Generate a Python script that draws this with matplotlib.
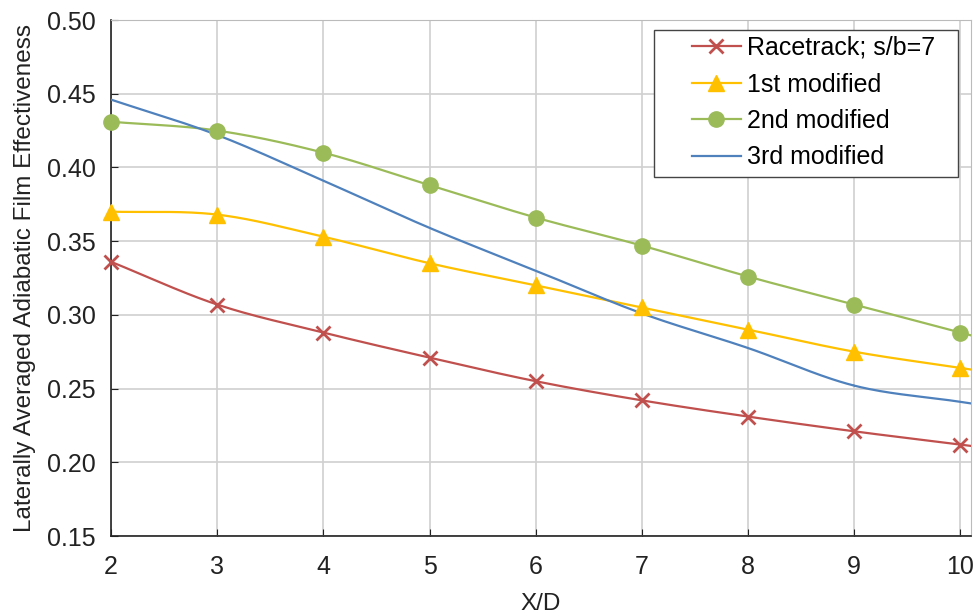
import matplotlib
matplotlib.use("Agg")
import matplotlib.pyplot as plt
from matplotlib.patches import Rectangle
import numpy as np

plt.rcParams['font.family'] = ['Liberation Sans', 'DejaVu Sans']

xd = [2, 3, 4, 5, 6, 7, 8, 9, 10]
racetrack = [0.336, 0.307, 0.288, 0.271, 0.255, 0.242, 0.231, 0.221, 0.212]
mod1 = [0.370, 0.368, 0.353, 0.335, 0.320, 0.305, 0.290, 0.275, 0.264]
mod2 = [0.431, 0.425, 0.410, 0.388, 0.366, 0.347, 0.326, 0.307, 0.288]
mod3 = [0.446, 0.422, 0.391, 0.359, 0.330, 0.301, 0.2775, 0.252, 0.241]

labels = ['Racetrack; s/b=7', '1st modified', '2nd modified', '3rd modified']
colors = ['#C0504D', '#FFC000', '#9BBB59', '#4F81BD']
markers = ['x', '^', 'o', None]


def smooth(x, y, n=30, ext=0.1):
    """ Catmull-Rom style smoothing, similar to the spreadsheet 'smoothed line'."""
    x = np.asarray(x, float)
    y = np.asarray(y, float)
    px = np.concatenate([[2 * x[0] - x[1]], x, [2 * x[-1] - x[-2]]])
    py = np.concatenate([[2 * y[0] - y[1]], y, [2 * y[-1] - y[-2]]])
    xs, ys = [], []
    t = np.linspace(0, 1, n)
    for i in range(1, len(px) - 2):
        p0, p1, p2, p3 = py[i - 1], py[i], py[i + 1], py[i + 2]
        q0, q1, q2, q3 = px[i - 1], px[i], px[i + 1], px[i + 2]
        ys.append(0.5 * (2 * p1 + (-p0 + p2) * t + (2 * p0 - 5 * p1 + 4 * p2 - p3) * t**2
                         + (-p0 + 3 * p1 - 3 * p2 + p3) * t**3))
        xs.append(0.5 * (2 * q1 + (-q0 + q2) * t + (2 * q0 - 5 * q1 + 4 * q2 - q3) * t**2
                         + (-q0 + 3 * q1 - 3 * q2 + q3) * t**3))
    xs = np.concatenate(xs)
    ys = np.concatenate(ys)
    # carry the end on a little so it reaches the right frame
    slope = (ys[-1] - ys[-2]) / (xs[-1] - xs[-2])
    xs = np.append(xs, xs[-1] + ext)
    ys = np.append(ys, ys[-1] + slope * ext)
    return xs, ys


W, H = 976, 616
fig = plt.figure(figsize=(W / 100, H / 100), dpi=100)
ax = fig.add_axes([111 / W, 1 - 536 / H, 860 / W, 516 / H])

series = [racetrack, mod1, mod2, mod3]
for vals, lab, c, m in zip(series, labels, colors, markers):
    sx, sy = smooth(xd, vals)
    ax.plot(sx, sy, color=c, lw=1.6, zorder=3)
    if m is None:
        ax.plot([], [], color=c, lw=1.6, label=lab)
    else:
        ms = 10 if m == 'x' else 11
        mew = 2 if m == 'x' else 1
        ax.plot(xd, vals, linestyle='none', marker=m, color=c, ms=ms,
                mew=mew, zorder=4, clip_on=False)
        ax.plot([], [], color=c, lw=1.6, marker=m, ms=ms, mew=mew, label=lab)

ax.set_xlim(2, 10.1)
ax.set_ylim(0.15, 0.50)
ax.set_xticks(range(2, 11))
yt = np.arange(0.15, 0.501, 0.05)
ax.set_yticks(yt)
ax.set_yticklabels([f'{v:.2f}' for v in yt])
ax.grid(True, color='#D0D0D0', lw=1.2)
ax.set_axisbelow(True)
ax.tick_params(direction='in', labelsize=18, length=5, pad=11, colors='#222222')
ax.tick_params(axis='x', pad=14)
for s in ['top', 'right']:
    ax.spines[s].set_color('#BBBBBB')
for s in ['left', 'bottom']:
    ax.spines[s].set_color('#222222')
    ax.spines[s].set_linewidth(1.2)

ax.set_xlabel('X/D', fontsize=17.5, labelpad=10, color='#222222')
ax.set_ylabel('Laterally Averaged Adiabatic Film Effectiveness', fontsize=17.5,
              labelpad=8, color='#222222')

# legend frame drawn by hand: the box has wide side margins but tight rows
frame = Rectangle((654 / W, 1 - 177 / H), 304 / W, 147 / H, transform=fig.transFigure,
                  facecolor='white', edgecolor='#444444', lw=1.0, zorder=5)
ax.add_patch(frame)
frame.set_clip_on(False)
leg = ax.legend(loc='upper left', bbox_to_anchor=(692 / W, 1 - 36 / H),
                bbox_transform=fig.transFigure, fontsize=18, frameon=False,
                borderpad=0, borderaxespad=0, handlelength=1.95,
                handletextpad=0.25, labelspacing=0.5)
leg.set_zorder(6)

fig.savefig('out.png', dpi=100)
